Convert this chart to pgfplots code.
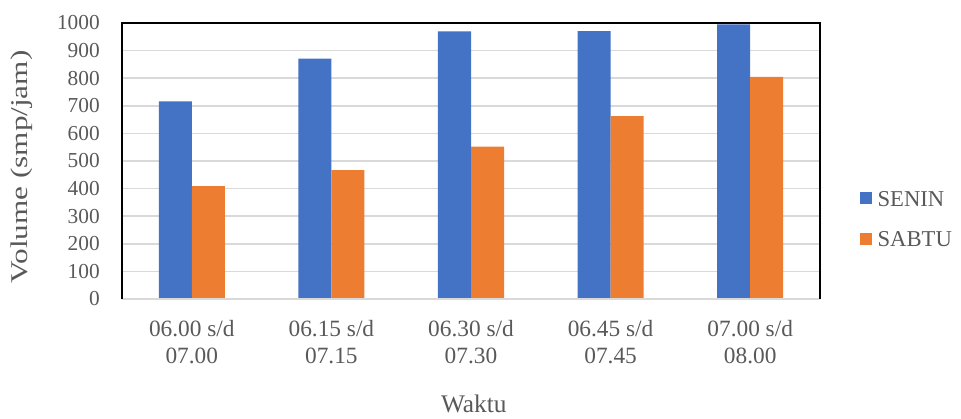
\documentclass[border=0pt]{standalone}
\usepackage{pgfplots}
\pgfplotsset{compat=1.18}
\usepackage{graphicx}
\usepackage{fontspec}
\setmainfont{Liberation Serif}
\definecolor{senin}{HTML}{4472C4}
\definecolor{sabtu}{HTML}{ED7D31}
\definecolor{txt}{HTML}{595959}
\definecolor{gridc}{HTML}{D9D9D9}

\begin{document}
\begin{tikzpicture}
% page frame
\path[use as bounding box] (-91.5pt,-89.8pt) rectangle (629.25pt,224.25pt);
\begin{axis}[
  at={(0,0)}, anchor=south west,
  scale only axis, width=523.5pt, height=207pt,
  ybar=0pt, bar width=24.75pt,
  xmin=-0.5, xmax=4.5, ymin=0, ymax=1000,
  xtick={0,1,2,3,4},
  xticklabels={{06.00 s/d\\07.00},{06.15 s/d\\07.15},{06.30 s/d\\07.30},{06.45 s/d\\07.45},{07.00 s/d\\08.00}},
  ytick={0,100,...,1000},
  /pgf/number format/assume math mode=true,
  /pgf/number format/1000 sep={},
  ymajorgrids, major grid style={gridc, line width=1.3pt},
  major tick length=0pt,
  axis line style={draw=none},
  clip=false,
  yticklabel style={anchor=east, inner sep=0pt, xshift=-16.5pt, text=txt, font=\fontsize{16}{19}\selectfont},
  xticklabel style={anchor=north, inner sep=0pt, yshift=-15.5pt, align=center, text=txt, font=\fontsize{17.5}{20.3}\selectfont},
  xlabel={Waktu},
  xlabel style={at={(axis description cs:0.504,-0.412)}, anchor=base, inner sep=0pt, text=txt, font=\fontsize{19}{22}\selectfont},
  ylabel={\scalebox{1.3}[1]{Volume (smp/jam)}},
  ylabel style={at={(axis description cs:-0.1433,0.479)}, anchor=center, inner sep=0pt, text=txt, font=\fontsize{18}{21}\selectfont},
  legend style={draw=none, fill=none, at={(axis description cs:1.0573,0.286)}, anchor=west,
    inner sep=0pt, row sep=17.5pt, font=\fontsize{17}{20}\selectfont, text=txt,
    nodes={inner sep=0pt}, /tikz/every odd column/.append style={column sep=4pt}},
  legend cell align=left,
  legend image code/.code={\fill[#1, draw=none] (0pt,-3.4pt) rectangle (9pt,5.6pt);},
]
\addplot[fill=senin, draw=none] coordinates {(0,716) (1,871) (2,970) (3,971) (4,995)};
\addplot[fill=sabtu, draw=none] coordinates {(0,409) (1,467) (2,552) (3,663) (4,805)};
\legend{SENIN, SABTU}
\draw[gridc, line width=1.3pt] (rel axis cs:0,0) -- (rel axis cs:1,0);
\draw[black, line width=1.1pt] (rel axis cs:0,0) -- (rel axis cs:0,1) -- (rel axis cs:1,1) -- (rel axis cs:1,0);
\end{axis}
\end{tikzpicture}
\end{document}
